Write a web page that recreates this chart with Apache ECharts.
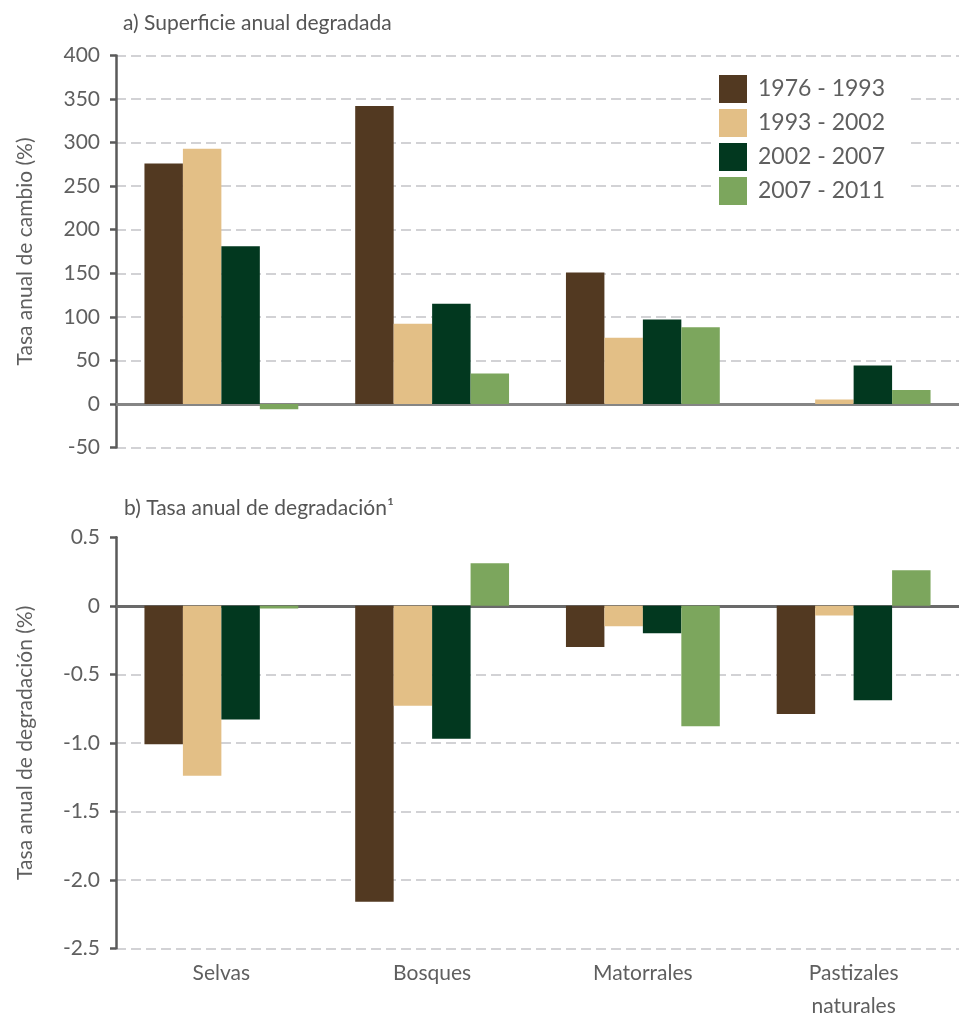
<!DOCTYPE html>
<html>
<head>
<meta charset="utf-8">
<script src="https://cdn.jsdelivr.net/npm/echarts@6/dist/echarts.min.js"></script>
<style>
  html, body { margin: 0; padding: 0; background: #fff; }
  #chartmain { width: 959px; height: 1013px; }
</style>
</head>
<body>
<div id="chartmain"></div>
<script>
// categorias y periodos
var categorias = ['Selvas', 'Bosques', 'Matorrales', 'Pastizales\nnaturales'];
var periodos = ['1976 - 1993', '1993 - 2002', '2002 - 2007', '2007 - 2011'];
var colores = ['#523921', '#e3bf86', '#02381f', '#7ca65d'];

// a) Superficie anual degradada (%)
var sup1976 = [276, 342, 151, 0];
var sup1993 = [293, 92, 76, 5];
var sup2002 = [181, 115, 97, 44];
var sup2007 = [-6, 35, 88, 16];

// b) Tasa anual de degradacion (%)
var tasa1976 = [-1.01, -2.16, -0.30, -0.79];
var tasa1993 = [-1.24, -0.73, -0.15, -0.07];
var tasa2002 = [-0.83, -0.97, -0.20, -0.69];
var tasa2007 = [-0.02, 0.31, -0.88, 0.26];

// ticks
var ticksA = [-50, 400, 50];   // min, max, intervalo
var ticksB = [-2.5, 0.5, 0.5];

var fuente = 'Lato, "Open Sans", sans-serif';
var gris = '#5f5f5f';

var supSeries = [sup1976, sup1993, sup2002, sup2007];
var tasaSeries = [tasa1976, tasa1993, tasa2002, tasa2007];

function ejeY(idx, ticks, nombre, fmt, maxLine) {
  return {
    type: 'value', gridIndex: idx,
    min: ticks[0], max: ticks[1], interval: ticks[2],
    name: nombre, nameLocation: 'middle', nameGap: 80,
    nameTextStyle: { fontFamily: fuente, fontSize: 21, color: gris },
    axisLine: { show: true, lineStyle: { color: '#5a5a5a', width: 2.5 } },
    axisTick: { show: true, length: 6, lineStyle: { color: '#5a5a5a', width: 2.5 } },
    axisLabel: { fontFamily: fuente, fontSize: 21, color: gris, margin: 16, formatter: fmt },
    splitLine: { show: true, showMaxLine: maxLine, lineStyle: { color: '#c4c4c8', width: 1.5, type: [10, 5] } }
  };
}

var series = [];
for (var i = 0; i < periodos.length; i++) {
  series.push({
    name: periodos[i], type: 'bar', xAxisIndex: 0, yAxisIndex: 0,
    data: supSeries[i], itemStyle: { color: colores[i] },
    barGap: 0, barCategoryGap: '27%'
  });
  series.push({
    name: periodos[i], type: 'bar', xAxisIndex: 1, yAxisIndex: 1,
    data: tasaSeries[i], itemStyle: { color: colores[i] },
    barGap: 0, barCategoryGap: '27%'
  });
}

option = {
  animation: false,
  backgroundColor: '#fff',
  title: [
    { text: 'a) Superficie anual degradada', left: 118, top: 8,
      textStyle: { fontFamily: fuente, fontSize: 21, fontWeight: 'normal', color: '#555' } },
    { text: 'b) Tasa anual de degradación\u00b9', left: 119, top: 493,
      textStyle: { fontFamily: fuente, fontSize: 21, fontWeight: 'normal', color: '#555' } }
  ],
  legend: {
    orient: 'vertical', left: 713, top: 69,
    data: periodos, icon: 'rect',
    itemWidth: 28, itemHeight: 28, itemGap: 6,
    padding: [6, 26, 6, 6],
    backgroundColor: '#fff',
    textStyle: { fontFamily: fuente, fontSize: 23, color: gris, padding: [0, 0, 0, 6] }
  },
  grid: [
    { left: 116, right: 0, top: 55.5, height: 392, outerBoundsMode: 'none' },
    { left: 116, right: 0, top: 537.3, height: 411, outerBoundsMode: 'none' }
  ],
  xAxis: [
    { type: 'category', gridIndex: 0, data: categorias,
      axisLine: { onZero: true, lineStyle: { color: '#858585', width: 3 } },
      axisTick: { show: false }, axisLabel: { show: false } },
    { type: 'category', gridIndex: 1, data: categorias,
      axisLine: { onZero: true, lineStyle: { color: '#6a6a6a', width: 3 } },
      axisTick: { show: false }, axisLabel: { show: false } },
    { type: 'category', gridIndex: 1, data: categorias, position: 'bottom',
      axisLine: { show: false, onZero: false }, axisTick: { show: false },
      axisLabel: { fontFamily: fuente, fontSize: 21, color: gris, margin: 8, lineHeight: 33 } }
  ],
  yAxis: [
    ejeY(0, ticksA, 'Tasa anual de cambio (%)', function (v) { return String(v); }, true),
    ejeY(1, ticksB, 'Tasa anual de degradación (%)', function (v) { return v === 0 ? '0' : v.toFixed(1); }, false)
  ],
  series: series
};

var myChart = echarts.init(document.getElementById('chartmain'));
myChart.setOption(option);
</script>
</body>
</html>
